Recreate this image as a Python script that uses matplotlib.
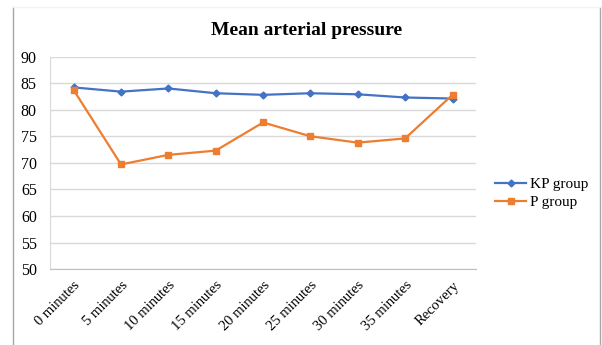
import matplotlib
matplotlib.use("Agg")
import matplotlib.pyplot as plt
from matplotlib.lines import Line2D

plt.rcParams["font.family"] = ["Liberation Serif", "DejaVu Serif"]

categories = ["0 minutes", "5 minutes", "10 minutes", "15 minutes", "20 minutes",
              "25 minutes", "30 minutes", "35 minutes", "Recovery"]
kp_group = [84.2, 83.4, 84.0, 83.1, 82.8, 83.1, 82.9, 82.3, 82.1]
p_group = [83.7, 69.7, 71.5, 72.3, 77.6, 75.0, 73.8, 74.6, 82.8]
y_ticks = [50, 55, 60, 65, 70, 75, 80, 85, 90]

BLUE = "#4472C4"
ORANGE = "#ED7D31"
GRID = "#D9D9D9"

fig = plt.figure(figsize=(6.02, 3.45), dpi=100)
ax = fig.add_axes([0.083, 0.220, 0.708, 0.616])

x = list(range(len(categories)))
ax.plot(x, kp_group, color=BLUE, lw=1.6, marker="D", ms=3.5, label="KP group")
ax.plot(x, p_group, color=ORANGE, lw=1.6, marker="s", ms=5, label="P group")

ax.set_xlim(-0.5, len(categories) - 0.5)
ax.set_ylim(50, 90)
ax.set_yticks(y_ticks)
ax.set_yticklabels([str(v) for v in y_ticks], fontsize=11.5)
ax.set_xticks(x)
ax.set_xticklabels(categories, fontsize=10.5, rotation=45, ha="right",
                   rotation_mode="anchor")
ax.tick_params(length=0)
ax.tick_params(axis="y", pad=9.5)
ax.tick_params(axis="x", pad=7)
ax.grid(axis="y", color=GRID, lw=1)
ax.set_axisbelow(True)
for side in ("top", "right"):
    ax.spines[side].set_visible(False)
ax.spines["left"].set_color(GRID)
ax.spines["bottom"].set_color("#BFBFBF")

fig.text(0.509, 0.913, "Mean arterial pressure", ha="center", va="center",
         fontsize=14, fontweight="bold")

fig.legend(loc="center left", bbox_to_anchor=(0.81, 0.440), frameon=False,
           fontsize=11, handlelength=2.0, handletextpad=0.3, labelspacing=0.3,
           borderpad=0)

# outer chart frame
fig.add_artist(Line2D([0.021, 0.021], [0.0, 0.98], color="#A6A6A6", lw=1))
fig.add_artist(Line2D([0.997, 0.997], [0.0, 0.98], color="#A6A6A6", lw=1))
fig.add_artist(Line2D([0.021, 0.997], [0.98, 0.98], color="#F2F2F2", lw=1))

fig.savefig("out.png", dpi=100, facecolor="white")
